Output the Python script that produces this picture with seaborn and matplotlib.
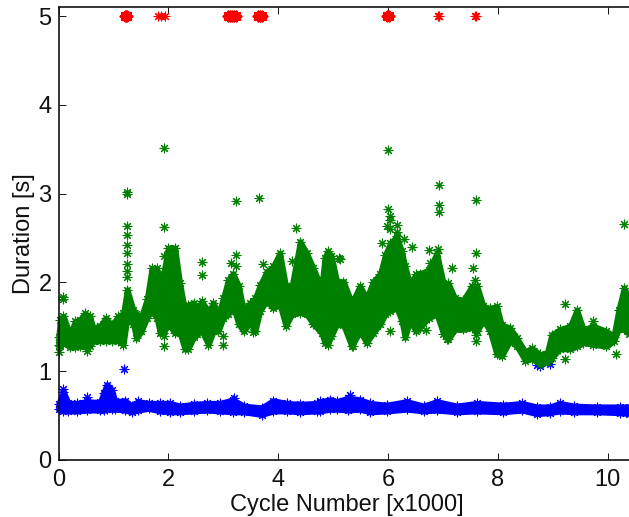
import matplotlib
matplotlib.use('Agg')
import matplotlib.pyplot as plt
import seaborn as sns

# green band: cycle number [x1000], top and bottom of the band
green_x = [0.0, 0.03, 0.09, 0.21, 0.30, 0.39, 0.48, 0.57, 0.63, 0.76, 0.86, 0.97, 1.09, 1.18, 1.25, 1.36, 1.42, 1.51,
           1.61, 1.70, 1.79, 1.85, 1.91, 2.00, 2.12, 2.21, 2.30, 2.36, 2.46, 2.52, 2.61, 2.73, 2.82, 2.91, 3.00, 3.09,
           3.18, 3.28, 3.37, 3.49, 3.58, 3.67, 3.79, 3.91, 4.03, 4.14, 4.25, 4.40, 4.52, 4.64, 4.79, 4.85, 4.90, 4.97,
           5.07, 5.19, 5.34, 5.49, 5.61, 5.73, 5.86, 5.95, 6.04, 6.16, 6.25, 6.31, 6.40, 6.51, 6.58, 6.74, 6.89, 7.01,
           7.10, 7.22, 7.37, 7.53, 7.62, 7.74, 7.86, 7.98, 8.07, 8.22, 8.35, 8.50, 8.62, 8.77, 8.89, 8.98, 9.13, 9.32,
           9.44, 9.56, 9.74, 9.98, 10.11, 10.20, 10.30, 10.39]
green_hi = [1.39, 1.58, 1.62, 1.41, 1.56, 1.58, 1.65, 1.62, 1.49, 1.51, 1.60, 1.52, 1.62, 1.65, 1.92, 1.69, 1.64, 1.62,
            1.81, 2.16, 2.16, 1.96, 2.10, 2.39, 2.39, 1.99, 1.69, 1.75, 1.77, 1.69, 1.79, 1.67, 1.77, 1.64, 1.82, 2.03,
            2.10, 1.96, 1.69, 1.77, 1.82, 1.97, 2.12, 2.18, 2.33, 1.96, 1.96, 2.46, 2.33, 2.16, 1.94, 2.28, 2.35, 2.30,
            2.01, 2.01, 1.77, 1.96, 1.82, 2.01, 2.10, 2.31, 2.44, 2.52, 2.35, 2.18, 1.99, 2.09, 2.10, 2.14, 2.33, 1.99,
            1.99, 1.82, 1.80, 1.96, 1.96, 1.73, 1.71, 1.73, 1.52, 1.49, 1.37, 1.22, 1.26, 1.19, 1.19, 1.41, 1.47, 1.51,
            1.69, 1.47, 1.51, 1.45, 1.39, 1.69, 1.94, 1.82]
green_lo = [1.30, 1.28, 1.32, 1.27, 1.27, 1.28, 1.28, 1.28, 1.34, 1.34, 1.34, 1.34, 1.34, 1.30, 1.60, 1.53, 1.37, 1.45,
            1.60, 1.68, 1.60, 1.43, 1.43, 1.53, 1.43, 1.43, 1.25, 1.25, 1.38, 1.42, 1.45, 1.30, 1.45, 1.45, 1.60, 1.64,
            1.73, 1.53, 1.45, 1.55, 1.45, 1.68, 1.79, 1.71, 1.75, 1.51, 1.64, 1.66, 1.64, 1.53, 1.43, 1.32, 1.30, 1.40,
            1.53, 1.52, 1.28, 1.45, 1.32, 1.43, 1.53, 1.64, 1.68, 1.71, 1.57, 1.38, 1.57, 1.45, 1.49, 1.60, 1.64, 1.42,
            1.36, 1.47, 1.47, 1.49, 1.45, 1.57, 1.45, 1.19, 1.17, 1.34, 1.28, 1.12, 1.14, 1.08, 1.10, 1.15, 1.25, 1.25,
            1.28, 1.32, 1.30, 1.28, 1.34, 1.47, 1.47, 1.42]

# green points outside the band
green_out_x = [0.09, 0.09, 0.0, 0.51, 1.25, 1.25, 1.25, 1.25, 1.25, 1.25, 1.25, 1.24, 1.25, 1.93, 1.93, 1.93, 1.93, 1.92,
               2.62, 2.62, 2.99, 2.99, 3.15, 3.23, 3.23, 3.23, 3.55, 3.65, 3.73, 4.25, 4.33, 5.11, 5.12, 5.37, 5.90, 5.99,
               6.00, 6.00, 6.03, 6.03, 6.03, 6.03, 6.17, 6.17, 6.29, 6.44, 6.69, 6.74, 6.77, 6.92, 6.93, 6.93, 6.93, 7.07,
               7.16, 7.54, 7.59, 7.60, 7.60, 7.60, 7.60, 9.23, 9.23, 9.74, 10.15, 10.29]
green_out_y = [1.81, 1.84, 1.22, 1.23, 2.63, 2.53, 2.42, 2.33, 2.21, 2.13, 2.06, 3.00, 3.02, 2.62, 2.30, 1.40, 1.28, 3.51,
               2.23, 2.08, 1.29, 1.40, 2.22, 2.31, 2.19, 2.92, 1.44, 2.95, 2.21, 2.24, 2.61, 2.27, 2.26, 1.28, 2.44, 2.64,
               3.49, 2.83, 2.75, 2.70, 1.45, 2.60, 2.65, 2.57, 2.49, 2.40, 1.46, 2.37, 2.22, 2.38, 3.10, 2.87, 2.79, 1.36,
               2.16, 2.16, 2.03, 2.93, 2.33, 1.41, 1.34, 1.76, 1.14, 1.57, 1.19, 2.66]

# blue band
blue_x = [0.0, 0.09, 0.18, 0.33, 0.51, 0.76, 0.82, 0.88, 0.97, 1.03, 1.21, 1.33, 1.45, 1.64, 1.85, 2.03, 2.21, 2.46,
          2.70, 2.94, 3.18, 3.37, 3.70, 3.91, 4.16, 4.40, 4.70, 4.76, 4.95, 5.07, 5.28, 5.49, 5.67, 5.98, 6.34, 6.65,
          6.89, 7.25, 7.62, 8.10, 8.44, 8.71, 8.95, 9.13, 9.38, 9.80, 10.23, 10.39]
blue_hi = [0.63, 0.77, 0.64, 0.64, 0.66, 0.65, 0.76, 0.85, 0.79, 0.66, 0.67, 0.61, 0.66, 0.64, 0.64, 0.64, 0.61, 0.63,
           0.64, 0.64, 0.68, 0.61, 0.59, 0.67, 0.64, 0.63, 0.64, 0.66, 0.68, 0.66, 0.70, 0.68, 0.64, 0.62, 0.66, 0.61,
           0.66, 0.61, 0.64, 0.62, 0.64, 0.60, 0.60, 0.64, 0.61, 0.60, 0.60, 0.60]
blue_lo = [0.57, 0.55, 0.55, 0.55, 0.56, 0.56, 0.56, 0.57, 0.57, 0.57, 0.56, 0.54, 0.56, 0.58, 0.55, 0.54, 0.54, 0.55,
           0.56, 0.55, 0.54, 0.54, 0.51, 0.55, 0.55, 0.54, 0.55, 0.55, 0.57, 0.57, 0.56, 0.57, 0.54, 0.55, 0.57, 0.55,
           0.56, 0.54, 0.55, 0.54, 0.56, 0.52, 0.53, 0.55, 0.54, 0.54, 0.53, 0.52]

blue_out_x = [0.09, 0.51, 1.20, 3.20, 5.30, 8.72, 8.77, 8.95]
blue_out_y = [0.80, 0.71, 1.02, 0.70, 0.73, 1.07, 1.06, 1.08]

# red points at 5 s: solid clusters, then the few loose ones
red_solid_x = [1.21, 1.23, 1.25, 3.09, 3.12, 3.16, 3.20, 3.23, 3.63, 3.67, 3.71, 5.99, 6.01]
red_solid_y = [5.0] * len(red_solid_x)
red_loose_x = [1.82, 1.87, 1.94, 6.91, 6.93, 7.58, 7.61]
red_loose_y = [5.0] * len(red_loose_x)

x_ticks = [0, 2, 4, 6, 8, 10]
y_ticks = [0, 1, 2, 3, 4, 5]

sns.set_style('ticks')
plt.rcParams['font.family'] = ['Liberation Sans', 'DejaVu Sans']

fig = plt.figure(figsize=(6.29, 5.17), dpi=100)
ax = fig.add_axes([58.5 / 629, (517 - 460) / 517, (629 - 58.5) / 629, (460 - 7.5) / 517])

star = (8, 2, 0)


def stars(x, y, color, lw=0.8, z=2):
    sns.scatterplot(x=x, y=y, color=color, marker=star, s=40, linewidth=lw, clip_on=False, zorder=z, ax=ax)


def draw_band(x, hi, lo, color):
    # thick edge so the fill reaches the outer ends of the asterisks
    ax.fill_between(x, lo, hi, facecolor=color, edgecolor=color, linewidth=4, joinstyle='round', clip_on=False, zorder=2)
    stars(x, hi, color)
    stars(x, lo, color)


draw_band(blue_x, blue_hi, blue_lo, '#0000ff')
stars(blue_out_x, blue_out_y, '#0000ff')
draw_band(green_x, green_hi, green_lo, '#008000')
stars(green_out_x, green_out_y, '#008000', z=3)
stars(red_solid_x, red_solid_y, '#ff0000', lw=2.2, z=3)
stars(red_loose_x, red_loose_y, '#ff0000', z=3)

ax.set_xlim(0, 10.39)
ax.set_ylim(0, 5.096)
ax.set_xticks(x_ticks)
ax.set_yticks(y_ticks)
ax.tick_params(direction='in', length=5, width=0.7, top=True, right=False, labelsize=17, colors='#111111')
ax.tick_params(axis='x', pad=6.5)
ax.tick_params(axis='y', pad=5)
ax.spines['right'].set_visible(False)
for side in ['top', 'left', 'bottom']:
    ax.spines[side].set_linewidth(1.2)
    ax.spines[side].set_color('#111111')
    ax.spines[side].set_zorder(5)

ax.set_xlabel('Cycle Number [x1000]', fontsize=17, color='#111111', labelpad=2)
ax.xaxis.label.set_x(0.505)
ax.set_ylabel('Duration [s]', fontsize=17, color='#111111', labelpad=2.5)

fig.savefig('out.png', dpi=100)
